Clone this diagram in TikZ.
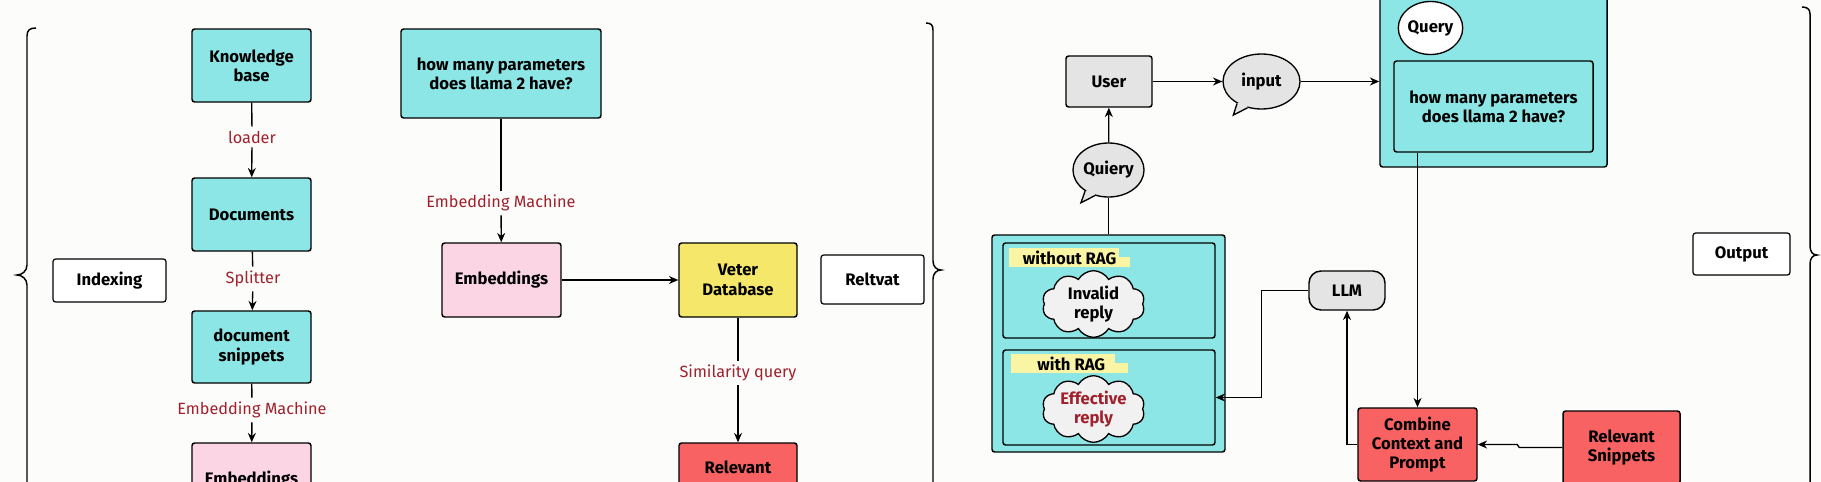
\documentclass[tikz,border=0pt]{standalone}
\usepackage{fontspec}
\setmainfont{Fira Sans}
\usetikzlibrary{shapes.geometric,shapes.symbols,arrows.meta,calc}
\definecolor{bgc}{HTML}{FCFCFA}
\definecolor{cyanc}{HTML}{8DE6E6}
\definecolor{pinkc}{HTML}{FCD5E5}
\definecolor{yelc}{HTML}{F5E76A}
\definecolor{redc}{HTML}{F86262}
\definecolor{greyc}{HTML}{E4E4E4}
\definecolor{hlc}{HTML}{FAF5A5}
\definecolor{labred}{HTML}{A0202C}
\definecolor{cloudc}{HTML}{F1F1F1}
\newcommand\fsz{\fontsize{12.5}{14.5}\selectfont}
\newcommand\lsz{\fontsize{12.2}{14.5}\selectfont}
\begin{document}
\begin{tikzpicture}[x=0.75pt,y=-0.75pt,
  bsz/.style 2 args={minimum width=#1*0.75pt, minimum height=#2*0.75pt},
  box/.style={draw, rounded corners=2pt, line width=1.1pt, font=\fsz\bfseries, align=center, inner sep=2pt},
  cbox/.style={box, fill=cyanc},
  pbox/.style={box, fill=pinkc},
  ybox/.style={box, fill=yelc},
  rbox/.style={box, fill=redc},
  wbox/.style={box, fill=white, line width=0.9pt},
  gbox/.style={box, fill=greyc},
  lbl/.style={text=labred, font=\lsz, fill=bgc, inner sep=3pt},
  arr/.style={-{Stealth[length=7pt,width=6pt]}, line width=1pt},
  ln/.style={line width=1pt},
  brc/.style={line width=1.1pt},
  bub/.style={ellipse, draw, line width=1pt, fill=greyc, font=\fsz\bfseries, inner sep=0pt},
  cld/.style={cloud, cloud puffs=10, cloud puff arc=120, aspect=1.9, draw, line width=1pt, fill=cloudc, font=\fsz\bfseries, align=center, inner sep=0pt},
  hl/.style={fill=hlc, font=\fsz\bfseries, inner sep=2pt, anchor=west}
]
\fill[bgc] (0,0) rectangle (1821,482);
\useasboundingbox (0,0) rectangle (1821,482);

% braces
\draw[brc] (36,28) .. controls (30,28) and (27,30) .. (27,36) -- (27,265) .. controls (27,271) and (22,275) .. (17,275) .. controls (22,275) and (27,279) .. (27,285) -- (27,492);
\draw[brc] (926,23) .. controls (931,23) and (933,25) .. (933,30) -- (933,261) .. controls (933,267) and (937,270) .. (941,270) .. controls (937,270) and (933,273) .. (933,279) -- (933,492);
\draw[brc] (1802,7) .. controls (1807,7) and (1810,9) .. (1810,14) -- (1810,246) .. controls (1810,252) and (1813,255) .. (1817,255) .. controls (1813,255) and (1810,258) .. (1810,264) -- (1810,492);

% indexing column
\node[wbox, bsz={113}{43}] (idx) at (109.5,280.5) {Indexing};
\node[cbox, bsz={119}{73}] (kb) at (251.5,65.5) {Knowledge\\base};
\node[cbox, bsz={119}{73}] (docs) at (251.5,214.5) {Documents};
\node[cbox, bsz={119}{72}] (snip) at (251.5,347) {document\\snippets};
\node[pbox, bsz={119}{73}] (emb1) at (251.5,479.5) {Embeddings};
\node[lbl] (l1) at (252,137) {loader};
\node[lbl] (l2) at (253,279) {Splitter};
\node[lbl] (l3) at (252,410) {Embedding Machine};
\draw[ln] (kb) -- (l1); \draw[arr] (l1) -- (docs);
\draw[ln] (docs) -- (l2); \draw[arr] (l2) -- (snip);
\draw[ln] (snip) -- (l3); \draw[arr] (l3) -- (emb1);

% retrieval column
\node[cbox, bsz={200}{89}] (qbox) at (501,73.5) {how many parameters\\does llama 2 have?};
\node[lbl] (l4) at (501,203) {Embedding Machine};
\node[pbox, bsz={119}{74}] (emb2) at (501.5,280) {Embeddings};
\node[ybox, bsz={118}{74}] (vdb) at (738,280) {Veter\\Database};
\node[lbl] (l5) at (738,373) {Similarity query};
\node[rbox, bsz={118}{73}] (rel) at (738,479.5) {Relevant\\\strut};
\node[wbox, bsz={103}{49}] (ret) at (872.5,279.5) {Reltvat};
\draw[ln] (qbox) -- (l4); \draw[arr] (l4) -- (emb2);
\draw[arr] (emb2) -- (vdb);
\draw[ln] (vdb) -- (l5); \draw[arr] (l5) -- (rel);

% output part
\node[gbox, bsz={86}{51}] (user) at (1109,81.5) {User};
\node[bub, bsz={77}{55}] (inp) at (1261.5,81.5) {input};
\node[bub, bsz={69}{54}] (q2) at (1108.5,170) {Quiery};
\foreach \b in {inp,q2}{
  \fill[greyc] (\b.242) -- ($(\b.232)+(-9,9)$) -- (\b.222) -- ($(\b.center)!0.75!(\b.232)$) -- cycle;
  \draw[line width=1pt] (\b.242) -- ($(\b.232)+(-9,9)$) -- (\b.222);
}

\node[box, fill=cyanc, bsz={227}{200}] (qcont) at (1493.5,67) {};
\node[ellipse, draw, line width=1pt, fill=white, bsz={62}{53}, font=\fsz\bfseries, inner sep=0pt] (q1) at (1430.5,28) {Query};
\node[cbox, bsz={199}{91}] (qin) at (1493.5,106.5) {how many parameters\\does llama 2 have?};

\node[cbox, bsz={233}{217}] (cont) at (1108.5,343.5) {};
\node[cbox, bsz={212}{95}] (in1) at (1109,290.5) {};
\node[cbox, bsz={212}{95}] (in2) at (1109,397.5) {};
\fill[hlc] (1116,257) rectangle (1130,267);
\node[hl, minimum width=110*0.75pt] (h1) at (1009,257.5) {\hspace*{8pt}without RAG};
\fill[hlc] (1114,363) rectangle (1128,373);
\node[hl, minimum width=104*0.75pt] (h2) at (1011,363.5) {\hspace*{12pt}with RAG};
\node[cld, bsz={97}{52}] (c1) at (1093.5,304) {Invalid\\reply};
\node[cld, bsz={97}{52}, text=labred] (c2) at (1093.5,409) {Effective\\reply};

\node[gbox, rounded corners=9pt, bsz={76}{39}] (llm) at (1347,290.5) {LLM};
\node[rbox, bsz={119}{73}] (comb) at (1417.5,444.5) {Combine\\Context and\\Prompt};
\node[rbox, bsz={117}{73}] (rs) at (1621.5,447.5) {Relevant\\Snippets};
\node[wbox, bsz={97}{42}] (out) at (1741.5,254) {Output};

\draw[arr] (user) -- (inp);
\draw[arr] (inp.east) -- (inp.east -| qcont.west);
\draw[arr] (q2) -- (user);
\draw[ln] (cont.north) -- (q2.south);
\draw[arr] (llm.west) -- ++(-47,0) |- (in2.east);
\draw[arr] (comb.west) -| (llm.south);
\draw[arr] (qin.south -| comb.north) -- (comb.north);
\draw[arr] (rs.west) -- ++(-43,0) -- ++(-2,-3) -- (comb.east);
\end{tikzpicture}
\end{document}
